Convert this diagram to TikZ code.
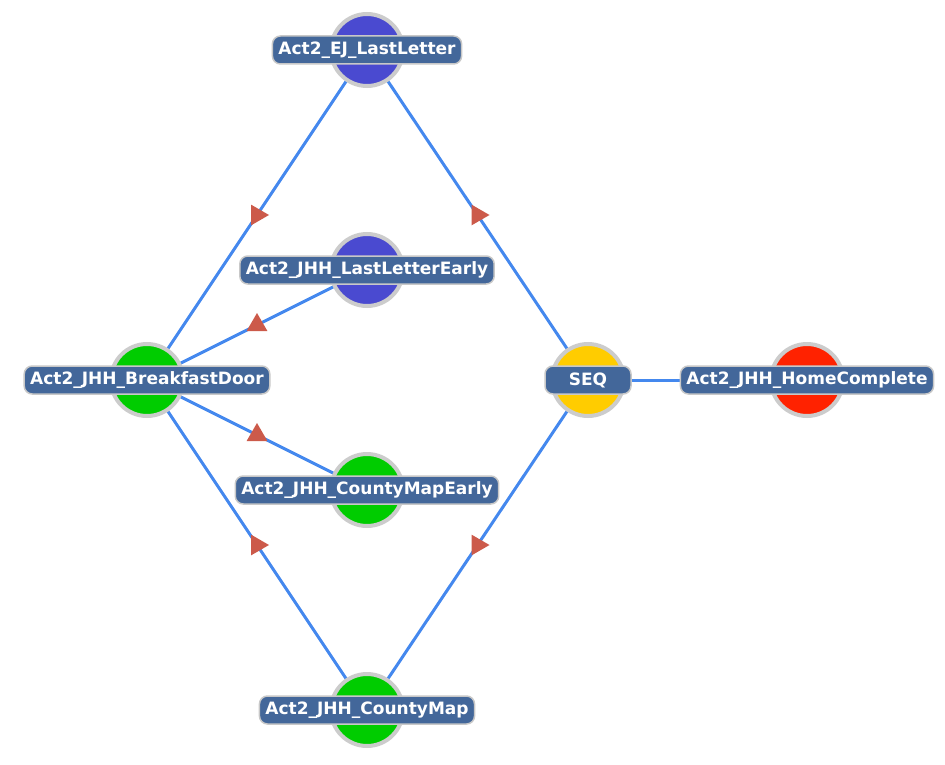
\documentclass[tikz,border=0pt]{standalone}
\usepackage{fontspec}
\setmainfont{DejaVu Sans}
\usepackage{tikz}
\usetikzlibrary{shapes.geometric,backgrounds}

\definecolor{ringgray}{RGB}{204,204,204}
\definecolor{taggray}{RGB}{200,200,200}
\definecolor{tagblue}{RGB}{67,103,154}
\definecolor{linkblue}{RGB}{68,136,238}
\definecolor{headred}{RGB}{204,90,74}
\definecolor{actpurple}{RGB}{74,74,208}
\definecolor{actgreen}{RGB}{0,204,0}
\definecolor{actyellow}{RGB}{255,204,0}
\definecolor{actred}{RGB}{255,34,0}

\begin{document}
\begin{tikzpicture}[x=1pt, y=-1pt,
  act/.style={circle, draw=ringgray, line width=4pt, minimum size=72pt, inner sep=0pt},
  tag/.style={draw=taggray, line width=1.5pt, fill=tagblue, rounded corners=8pt, text=white,
    font=\bfseries\fontsize{17}{20}\selectfont, inner xsep=6pt, inner ysep=0pt, minimum height=28pt},
  link/.style={draw=linkblue, line width=3pt},
  headr/.style={regular polygon, regular polygon sides=3, fill=headred, inner sep=0pt, minimum size=24pt, rotate=-90},
  headu/.style={headr, rotate=90}]
  \useasboundingbox (0,0) rectangle (945,765);
  \node[act, fill=actpurple] (ej)  at (367,50)  {};
  \node[act, fill=actpurple] (lle) at (367,270) {};
  \node[act, fill=actgreen]  (bd)  at (147,380) {};
  \node[act, fill=actgreen]  (cme) at (367,490) {};
  \node[act, fill=actgreen]  (cm)  at (367,710) {};
  \node[act, fill=actyellow] (seq) at (588,380) {};
  \node[act, fill=actred]    (hc)  at (807,380) {};
  \foreach \n/\t in {ej/Act2\_EJ\_LastLetter, lle/Act2\_JHH\_LastLetterEarly,
                     bd/Act2\_JHH\_BreakfastDoor, cme/Act2\_JHH\_CountyMapEarly,
                     cm/Act2\_JHH\_CountyMap, hc/Act2\_JHH\_HomeComplete}
    \node[tag] (\n-l) at (\n) {\t};
  \node[tag, minimum width=86pt] (seq-l) at (seq) {SEQ};
  \begin{scope}[on background layer]
  \path[link]
  (ej.center)  edge node [midway, headr] {} (bd.center)
               edge node [midway, headr] {} (seq.center)
  (lle.center) edge node [midway, headu] {} (bd.center)
  (cme.center) edge node [midway, headu] {} (bd.center)
  (cm.center)  edge node [midway, headr] {} (bd.center)
               edge node [midway, headr] {} (seq.center)
  (seq.center) edge (hc.center)
  ;
  \end{scope}
\end{tikzpicture}
\end{document}
